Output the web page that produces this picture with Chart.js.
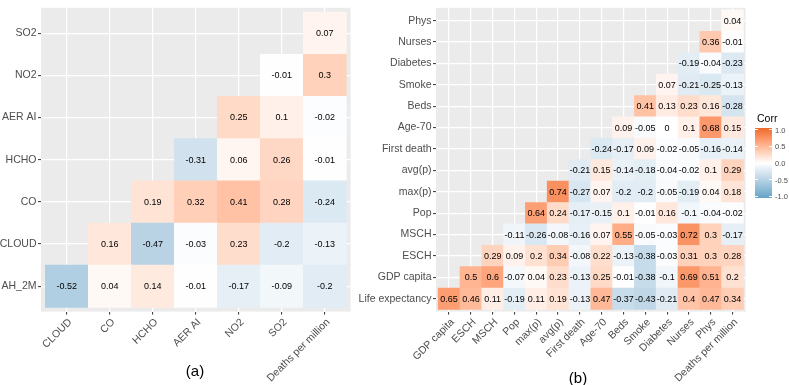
<!DOCTYPE html>
<html lang="en">
<head>
  <meta charset="utf-8">
  <title>Correlation heatmaps</title>
  <style>
    body { margin: 0; background: #fff; font-family: "Liberation Sans", Arial, sans-serif; }
    #wrap { position: relative; width: 789px; height: 385px; overflow: hidden; }
    .box { position: absolute; top: 0; }
    .cap { position: absolute; font-size: 15px; color: #000; transform: translate(-50%, -50%); }
    .lg { position: absolute; font-size: 7.5px; color: #4D4D4D; transform: translateY(-50%); }
  </style>
</head>
<body>
<div id="wrap">
  <div class="box" style="left:0px"><canvas id="chartA" width="355" height="385"></canvas></div>
  <div class="box" style="left:355px"><canvas id="chartB" width="434" height="385"></canvas></div>
  <div class="cap" style="left:195px; top:370px">(a)</div>
  <div class="cap" style="left:578px; top:377px">(b)</div>
  <div id="legend"></div>
</div>

<script src="https://cdn.jsdelivr.net/npm/chart.js@4"></script>
<script>
// --- data (row i starts at column i, lower triangle) ---
const colsA = ['CLOUD', 'CO', 'HCHO', 'AER AI', 'NO2', 'SO2', 'Deaths per million'];
const rowsA = ['AH_2M', 'CLOUD', 'CO', 'HCHO', 'AER AI', 'NO2', 'SO2'];
const corrA = [
  [-0.52, 0.04, 0.14, -0.01, -0.17, -0.09, -0.2],
  [0.16, -0.47, -0.03, 0.23, -0.2, -0.13],
  [0.19, 0.32, 0.41, 0.28, -0.24],
  [-0.31, 0.06, 0.26, -0.01],
  [0.25, 0.1, -0.02],
  [-0.01, 0.3],
  [0.07]
];

const colsB = ['GDP capita', 'ESCH', 'MSCH', 'Pop', 'max(p)', 'avg(p)', 'First death', 'Age-70',
  'Beds', 'Smoke', 'Diabetes', 'Nurses', 'Phys', 'Deaths per million'];
const rowsB = ['Life expectancy', 'GDP capita', 'ESCH', 'MSCH', 'Pop', 'max(p)', 'avg(p)',
  'First death', 'Age-70', 'Beds', 'Smoke', 'Diabetes', 'Nurses', 'Phys'];
const corrB = [
  [0.65, 0.46, 0.11, -0.19, 0.11, 0.19, -0.13, 0.47, -0.37, -0.43, -0.21, 0.4, 0.47, 0.34],
  [0.5, 0.6, -0.07, 0.04, 0.23, -0.13, 0.25, -0.01, -0.38, -0.1, 0.69, 0.51, 0.2],
  [0.29, 0.09, 0.2, 0.34, -0.08, 0.22, -0.13, -0.38, -0.03, 0.31, 0.3, 0.28],
  [-0.11, -0.26, -0.08, -0.16, 0.07, 0.55, -0.05, -0.03, 0.72, 0.3, -0.17],
  [0.64, 0.24, -0.17, -0.15, 0.1, -0.01, 0.16, -0.1, -0.04, -0.02],
  [0.74, -0.27, 0.07, -0.2, -0.2, -0.05, -0.19, 0.04, 0.18],
  [-0.21, 0.15, -0.14, -0.18, -0.04, -0.02, 0.1, 0.29],
  [-0.24, -0.17, 0.09, -0.02, -0.05, -0.16, -0.14],
  [0.09, -0.05, 0, 0.1, 0.68, 0.15],
  [0.41, 0.13, 0.23, 0.16, -0.28],
  [0.07, -0.21, -0.25, -0.13],
  [-0.19, -0.04, -0.23],
  [0.36, -0.01],
  [0.04]
];

const legendTicks = [1.0, 0.5, 0.0, -0.5, -1.0];
const legendLabels = ['1.0', '0.5', '0.0', '-0.5', '-1.0'];

// --- colour scale: low / white / high, interpolated in Lab ---
const LOW = '#62A4C8', HIGH = '#EC6828';
function hexRgb(h) { return [1, 3, 5].map(i => parseInt(h.slice(i, i + 2), 16)); }
function rgbLab(c) {
  const lin = v => { v /= 255; return v <= 0.04045 ? v / 12.92 : Math.pow((v + 0.055) / 1.055, 2.4); };
  const R = lin(c[0]), G = lin(c[1]), B = lin(c[2]);
  const X = (0.4124 * R + 0.3576 * G + 0.1805 * B) / 0.95047;
  const Y = 0.2126 * R + 0.7152 * G + 0.0722 * B;
  const Z = (0.0193 * R + 0.1192 * G + 0.9505 * B) / 1.08883;
  const f = t => t > 0.008856 ? Math.cbrt(t) : 7.787 * t + 16 / 116;
  return [116 * f(Y) - 16, 500 * (f(X) - f(Y)), 200 * (f(Y) - f(Z))];
}
function labRgb(l) {
  const fy = (l[0] + 16) / 116, fx = fy + l[1] / 500, fz = fy - l[2] / 200;
  const inv = t => t * t * t > 0.008856 ? t * t * t : (t - 16 / 116) / 7.787;
  const X = inv(fx) * 0.95047, Y = inv(fy), Z = inv(fz) * 1.08883;
  const R = 3.2406 * X - 1.5372 * Y - 0.4986 * Z;
  const G = -0.9689 * X + 1.8758 * Y + 0.0415 * Z;
  const B = 0.0557 * X - 0.2040 * Y + 1.0570 * Z;
  const g = v => { v = v <= 0.0031308 ? 12.92 * v : 1.055 * Math.pow(v, 1 / 2.4) - 0.055; return Math.round(Math.min(1, Math.max(0, v)) * 255); };
  return [g(R), g(G), g(B)];
}
const labW = rgbLab([255, 255, 255]), labLo = rgbLab(hexRgb(LOW)), labHi = rgbLab(hexRgb(HIGH));
function corrColor(v) {
  const end = v >= 0 ? labHi : labLo, t = Math.min(1, Math.abs(v));
  const c = labRgb(labW.map((w, k) => w + (end[k] - w) * t));
  return 'rgb(' + c.join(',') + ')';
}

// --- chart helpers ---
const FONT = "'Liberation Sans', Arial, sans-serif";

function makeDatasets(corr) {
  return corr.map((row, i) => ({
    data: row.map((v, k) => ({ x: i + k + 0.5, y: [i, i + 1], v: v })),
    backgroundColor: ctx => corrColor(ctx.raw.v),
    borderWidth: 0,
    grouped: false,
    barPercentage: 1,
    categoryPercentage: 1
  }));
}

const panelBg = {
  id: 'panelBg',
  beforeDraw(chart) {
    const a = chart.chartArea, c = chart.ctx;
    c.save();
    c.fillStyle = '#EBEBEB';
    c.fillRect(a.left, a.top, a.right - a.left, a.bottom - a.top);
    c.restore();
  }
};

const cellText = {
  id: 'cellText',
  afterDatasetsDraw(chart) {
    const c = chart.ctx;
    c.save();
    c.font = '9px ' + FONT;
    c.fillStyle = '#000';
    c.textAlign = 'center';
    c.textBaseline = 'middle';
    chart.data.datasets.forEach((ds, i) => {
      chart.getDatasetMeta(i).data.forEach((bar, k) => {
        c.fillText(String(ds.data[k].v), bar.x, (bar.y + bar.base) / 2 + 0.5);
      });
    });
    c.restore();
  }
};

function axisOpts(labels, fitKey, fitSize, isX) {
  return {
    type: 'linear',
    min: -0.1,
    max: labels.length + 0.1,
    offset: false,
    border: { display: false },
    grid: {
      offset: false,
      color: '#FFFFFF',
      lineWidth: 1.2,
      drawTicks: true,
      tickLength: 3,
      tickWidth: 1,
      tickColor: '#333333'
    },
    ticks: {
      autoSkip: false,
      color: '#4D4D4D',
      font: { family: FONT, size: 10.5 },
      padding: isX ? 1.5 : 1.5,
      labelOffset: isX ? 3.5 : 0,
      minRotation: isX ? 45 : 0,
      maxRotation: isX ? 45 : 0,
      callback: (v, i) => labels[i]
    },
    afterBuildTicks: axis => { axis.ticks = labels.map((_, i) => ({ value: i + 0.5 })); },
    afterFit: axis => { axis[fitKey] = fitSize; }
  };
}

function makeChart(id, cols, rows, corr, yWidth, padRight) {
  return new Chart(document.getElementById(id), {
    type: 'bar',
    data: { datasets: makeDatasets(corr) },
    options: {
      responsive: false,
      animation: false,
      layout: { padding: { top: 2, right: padRight, left: 0, bottom: 0 } },
      plugins: { legend: { display: false }, tooltip: { enabled: false } },
      scales: {
        x: axisOpts(cols, 'height', 73.4, true),
        y: axisOpts(rows, 'width', yWidth, false)
      }
    },
    plugins: [panelBg, cellText]
  });
}

makeChart('chartA', colsA, rowsA, corrA, 41, 4.4);
makeChart('chartB', colsB, rowsB, corrB, 81, 43.4);

// --- colour bar legend ---
(function () {
  const lg = document.getElementById('legend');
  const barTop = 128, barH = 70, barLeft = 755, barW = 17;
  const stops = [];
  for (let s = 0; s <= 20; s++) {
    const v = 1 - s / 10;
    stops.push(corrColor(v) + ' ' + (s * 5) + '%');
  }
  let html = '<div style="position:absolute;left:757px;top:112px;font-size:10.5px;color:#000">Corr</div>';
  html += '<div style="position:absolute;left:' + barLeft + 'px;top:' + barTop + 'px;width:' + barW +
    'px;height:' + barH + 'px;background:linear-gradient(to bottom,' + stops.join(',') + ')"></div>';
  legendTicks.forEach((t, i) => {
    const y = barTop + 1.75 + (1 - t) / 2 * (barH - 3.5);
    html += '<div style="position:absolute;left:' + barLeft + 'px;top:' + (y - 0.5) + 'px;width:3px;height:1px;background:#fff"></div>';
    html += '<div style="position:absolute;left:' + (barLeft + barW - 3) + 'px;top:' + (y - 0.5) + 'px;width:3px;height:1px;background:#fff"></div>';
    html += '<div class="lg" style="left:775px;top:' + y + 'px">' + legendLabels[i] + '</div>';
  });
  lg.innerHTML = html;
})();
</script>
</body>
</html>
